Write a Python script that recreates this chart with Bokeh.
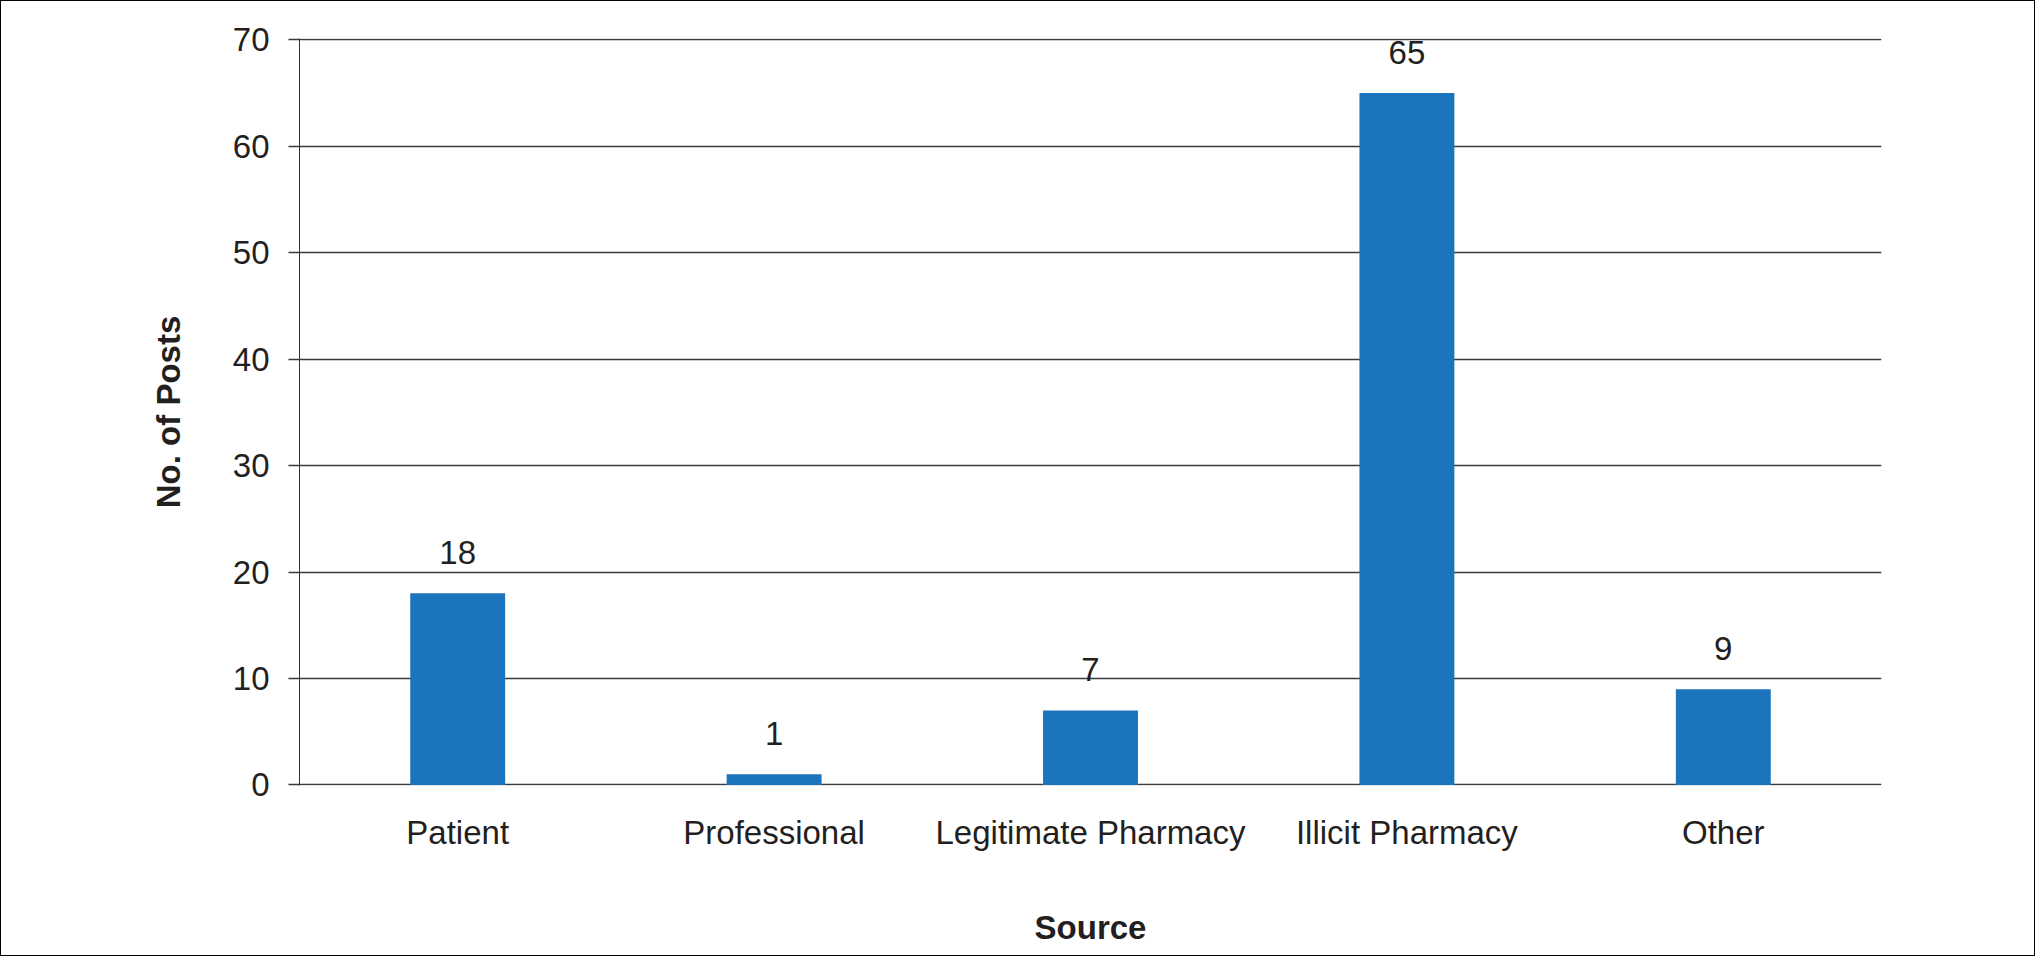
from bokeh.plotting import figure
from bokeh.models import ColumnDataSource, FactorRange, Range1d, FixedTicker
from bokeh.core.properties import value
from bokeh.embed import file_html
from bokeh.resources import INLINE

categories = ["Patient", "Professional", "Legitimate Pharmacy", "Illicit Pharmacy", "Other"]
posts = [18, 1, 7, 65, 9]
post_labels = ["18", "1", "7", "65", "9"]
y_ticks = [0, 10, 20, 30, 40, 50, 60, 70]

FONT = "Liberation Sans"
FS = "33px"
INK = "#231f20"

src = ColumnDataSource(dict(cat=categories, val=posts, lab=post_labels))

p = figure(width=2035, height=956, x_range=FactorRange(*categories),
           y_range=Range1d(-0.05, 70.12), output_backend="svg", toolbar_location=None)
p.styles = {"border": "1px solid black"}
p.min_border_left = 298
p.min_border_top = 37
p.min_border_right = 155
p.min_border_bottom = 172
p.outline_line_color = None
p.background_fill_color = "white"
p.border_fill_color = "white"

p.vbar(x="cat", top="val", width=0.3, source=src, fill_color="#1c75bc", line_color=None)
p.text(x="cat", y="val", text="lab", source=src, text_align="center",
       text_baseline="bottom", y_offset=-29, text_font=value(FONT),
       text_font_size=FS, text_color=INK)

p.xgrid.grid_line_color = None
p.ygrid.grid_line_color = "#3a3a3a"
p.ygrid.grid_line_width = 1.5
p.yaxis.ticker = FixedTicker(ticks=y_ticks)
p.yaxis.minor_tick_line_color = None
p.yaxis.major_tick_out = 11
p.yaxis.major_tick_in = 0
p.yaxis.major_tick_line_color = "#3a3a3a"
p.yaxis.major_tick_line_width = 1.5
p.yaxis.axis_line_color = "#333333"
p.yaxis.major_label_standoff = 19
p.yaxis.axis_label = "No. of Posts"
p.yaxis.axis_label_standoff = 43

p.xaxis.axis_line_color = None
p.xaxis.major_tick_line_color = None
p.xaxis.major_label_standoff = 22
p.xaxis.axis_label = "Source"
p.xaxis.axis_label_standoff = 55

for ax in (p.xaxis, p.yaxis):
    ax.major_label_text_font = FONT
    ax.major_label_text_font_size = FS
    ax.major_label_text_color = INK
    ax.axis_label_text_font = FONT
    ax.axis_label_text_font_size = FS
    ax.axis_label_text_font_style = "bold"
    ax.axis_label_text_color = INK

open("out.html", "w").write(file_html(p, INLINE))
